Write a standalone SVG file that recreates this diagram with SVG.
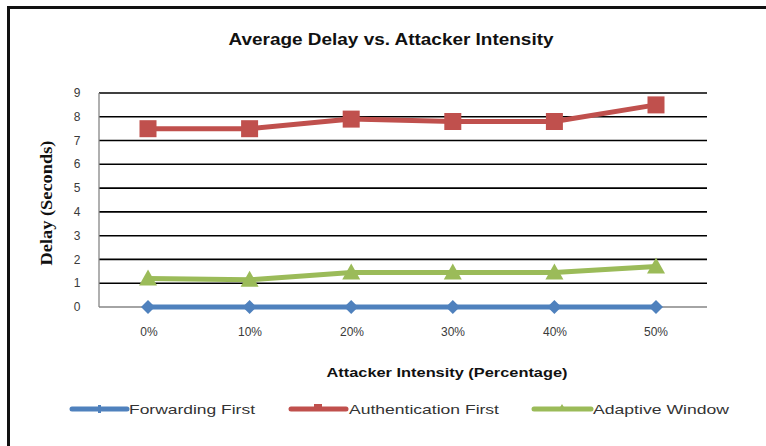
<svg xmlns="http://www.w3.org/2000/svg" width="766" height="446" viewBox="0 0 766 446">
<style>
.grid{stroke:#000;stroke-width:1.6}
.axis{stroke:#868686;stroke-width:1.3}
.tick{font-family:"Liberation Sans",Arial,sans-serif;font-size:12px;fill:#3a3a3a;text-anchor:middle}
.title{font-family:"Liberation Sans",Arial,sans-serif;font-size:16px;font-weight:bold;fill:#111;text-anchor:middle}
.xt{font-family:"Liberation Sans",Arial,sans-serif;font-size:13px;font-weight:bold;fill:#111;text-anchor:middle}
.yt{font-family:"Liberation Serif","Times New Roman",serif;font-size:16px;font-weight:bold;fill:#111;text-anchor:middle}
.leg{font-family:"Liberation Sans",Arial,sans-serif;font-size:13.5px;fill:#333}
.red{stroke:#C0504D;stroke-width:5;fill:none;stroke-linejoin:round}
.grn{stroke:#9BBB59;stroke-width:5;fill:none;stroke-linejoin:round}
.blu{stroke:#4F81BD;stroke-width:5;fill:none;stroke-linejoin:round}
</style>
<defs>
<rect id="sq" x="-8.5" y="-8.5" width="17" height="17" fill="#C0504D"/>
<polygon id="tri" points="0,-9 9,7 -9,7" fill="#9BBB59"/>
<polygon id="dia" points="0,-7 7,0 0,7 -7,0" fill="#4F81BD"/>
</defs>
<rect width="766" height="446" fill="#fff"/>
<g id="frame">
<line x1="8.5" y1="7.5" x2="766" y2="7.5" stroke="#111" stroke-width="3"/>
<line x1="8.5" y1="6" x2="8.5" y2="446" stroke="#111" stroke-width="3"/>
</g>
<text class="title" x="391" y="45" textLength="325" lengthAdjust="spacingAndGlyphs">Average Delay vs. Attacker Intensity</text>
<g id="grid">
<line class="grid" x1="99" y1="283.2" x2="707" y2="283.2"/>
<line class="grid" x1="99" y1="259.4" x2="707" y2="259.4"/>
<line class="grid" x1="99" y1="235.7" x2="707" y2="235.7"/>
<line class="grid" x1="99" y1="211.9" x2="707" y2="211.9"/>
<line class="grid" x1="99" y1="188.1" x2="707" y2="188.1"/>
<line class="grid" x1="99" y1="164.3" x2="707" y2="164.3"/>
<line class="grid" x1="99" y1="140.5" x2="707" y2="140.5"/>
<line class="grid" x1="99" y1="116.8" x2="707" y2="116.8"/>
<line class="grid" x1="99" y1="93" x2="707" y2="93"/>
<line class="axis" x1="99" y1="93" x2="99" y2="307"/>
<line class="axis" x1="99" y1="307" x2="707" y2="307"/>
</g>
<g id="yticks">
<text class="tick" x="77" y="311">0</text>
<text class="tick" x="77" y="287">1</text>
<text class="tick" x="77" y="263.5">2</text>
<text class="tick" x="77" y="239.7">3</text>
<text class="tick" x="77" y="216">4</text>
<text class="tick" x="77" y="192">5</text>
<text class="tick" x="77" y="168.3">6</text>
<text class="tick" x="77" y="144.5">7</text>
<text class="tick" x="77" y="120.8">8</text>
<text class="tick" x="77" y="97">9</text>
</g>
<g id="xticks">
<text class="tick" x="149" y="336">0%</text>
<text class="tick" x="250" y="336">10%</text>
<text class="tick" x="352" y="336">20%</text>
<text class="tick" x="453" y="336">30%</text>
<text class="tick" x="555" y="336">40%</text>
<text class="tick" x="656" y="336">50%</text>
</g>
<text class="xt" x="447" y="377" textLength="241" lengthAdjust="spacingAndGlyphs">Attacker Intensity (Percentage)</text>
<text class="yt" transform="translate(52,203) rotate(-90)" textLength="125" lengthAdjust="spacingAndGlyphs">Delay (Seconds)</text>
<g id="connectors">
<polyline id="auth" class="red" points="148,128.7 249.6,128.7 351.2,119.1 452.8,121.5 554.4,121.5 656,104.9"/>
<polyline id="adapt" class="grn" points="148,278.5 249.6,279.7 351.2,272.5 452.8,272.5 554.4,272.5 656,266.6"/>
<polyline id="fwd" class="blu" points="148,307 249.6,307 351.2,307 452.8,307 554.4,307 656,307"/>
</g>
<g id="auth-markers">
<use href="#sq" x="148" y="128.7"/><use href="#sq" x="249.6" y="128.7"/><use href="#sq" x="351.2" y="119.1"/>
<use href="#sq" x="452.8" y="121.5"/><use href="#sq" x="554.4" y="121.5"/><use href="#sq" x="656" y="104.9"/>
</g>
<g id="adapt-markers">
<use href="#tri" x="148" y="278.5"/><use href="#tri" x="249.6" y="279.7"/><use href="#tri" x="351.2" y="272.5"/>
<use href="#tri" x="452.8" y="272.5"/><use href="#tri" x="554.4" y="272.5"/><use href="#tri" x="656" y="266.6"/>
</g>
<g id="fwd-markers">
<use href="#dia" x="148" y="307"/><use href="#dia" x="249.6" y="307"/><use href="#dia" x="351.2" y="307"/>
<use href="#dia" x="452.8" y="307"/><use href="#dia" x="554.4" y="307"/><use href="#dia" x="656" y="307"/>
</g>
<g id="legend">
<line class="blu" x1="72" y1="409" x2="127" y2="409" stroke-linecap="round"/>
<rect x="98" y="405" width="3" height="8" fill="#4F81BD"/>
<text class="leg" x="129" y="414" textLength="126" lengthAdjust="spacingAndGlyphs">Forwarding First</text>
<line class="red" x1="291" y1="409" x2="346" y2="409" stroke-linecap="round"/>
<rect x="314" y="404" width="8" height="5" fill="#C0504D"/>
<text class="leg" x="349" y="414" textLength="150" lengthAdjust="spacingAndGlyphs">Authentication First</text>
<line class="grn" x1="534" y1="409" x2="591" y2="409" stroke-linecap="round"/>
<polygon points="562,404 565,409 559,409" fill="#9BBB59"/>
<text class="leg" x="593" y="414" textLength="136" lengthAdjust="spacingAndGlyphs">Adaptive Window</text>
</g>
</svg>
